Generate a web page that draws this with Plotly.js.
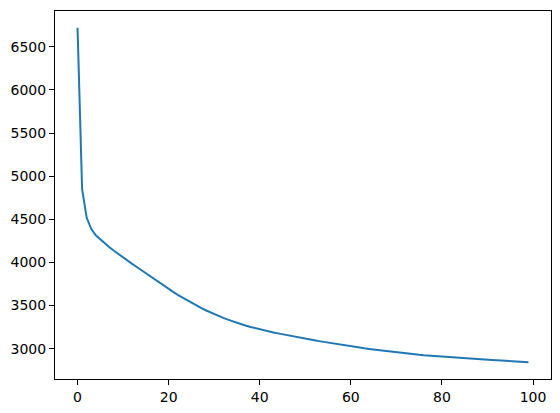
<!DOCTYPE html>
<html>
<head>
<meta charset="utf-8">
<script src="https://cdn.plot.ly/plotly-3.0.1.min.js"></script>
<style>
  html, body { margin: 0; padding: 0; background: #fff; }
  #chart { width: 560px; height: 413px; }
</style>
</head>
<body>
<div id="chart"></div>
<script>
// iteration index
var iterations = [
  0, 1, 2, 3, 4, 5, 6, 7, 8, 9,
  10, 11, 12, 13, 14, 15, 16, 17, 18, 19,
  20, 21, 22, 23, 24, 25, 26, 27, 28, 29,
  30, 31, 32, 33, 34, 35, 36, 37, 38, 39,
  40, 41, 42, 43, 44, 45, 46, 47, 48, 49,
  50, 51, 52, 53, 54, 55, 56, 57, 58, 59,
  60, 61, 62, 63, 64, 65, 66, 67, 68, 69,
  70, 71, 72, 73, 74, 75, 76, 77, 78, 79,
  80, 81, 82, 83, 84, 85, 86, 87, 88, 89,
  90, 91, 92, 93, 94, 95, 96, 97, 98, 99
];

// values
var lossValues = [
  6720, 4850, 4520, 4390, 4315, 4265, 4220, 4175, 4135, 4095,
  4058, 4020, 3983, 3947, 3910, 3873, 3835, 3798, 3762, 3727,
  3692, 3658, 3625, 3593, 3562, 3532, 3503, 3475, 3449, 3424,
  3400, 3378, 3357, 3337, 3318, 3300, 3283, 3267, 3252, 3238,
  3225, 3212, 3200, 3189, 3178, 3167, 3156, 3146, 3135, 3125,
  3115, 3106, 3097, 3088, 3079, 3070, 3061, 3052, 3044, 3036,
  3028, 3020, 3012, 3005, 2998, 2991, 2984, 2977, 2970, 2963,
  2956, 2950, 2944, 2939, 2934, 2929, 2924, 2920, 2915, 2911,
  2907, 2903, 2899, 2896, 2892, 2889, 2885, 2882, 2879, 2876,
  2873, 2870, 2867, 2864, 2861, 2858, 2855, 2851, 2847, 2843
];

var trace = {
    x: iterations,
    y: lossValues,
    type: 'scatter',
    mode: 'lines',
    line: { color: '#1f77b4', width: 2 },
    hoverinfo: 'skip'
};

var axisStyle = {
    showline: true,
    mirror: true,
    linecolor: '#000',
    linewidth: 1,
    ticks: 'outside',
    ticklen: 5,
    tickwidth: 1,
    tickcolor: '#000',
    showgrid: false,
    zeroline: false,
    tickfont: { family: 'DejaVu Sans', size: 14, color: '#000' }
};

var layout = {
    width: 560,
    height: 413,
    margin: { l: 55, r: 9, t: 11, b: 34 },
    paper_bgcolor: '#fff',
    plot_bgcolor: '#fff',
    showlegend: false,
    xaxis: Object.assign({}, axisStyle, { range: [-4.95, 103.95], tick0: 0, dtick: 20 }),
    yaxis: Object.assign({}, axisStyle, { range: [2649, 6914], tick0: 0, dtick: 500 })
};

Plotly.newPlot('chart', [trace], layout, { displayModeBar: false, staticPlot: true });
</script>
</body>
</html>
